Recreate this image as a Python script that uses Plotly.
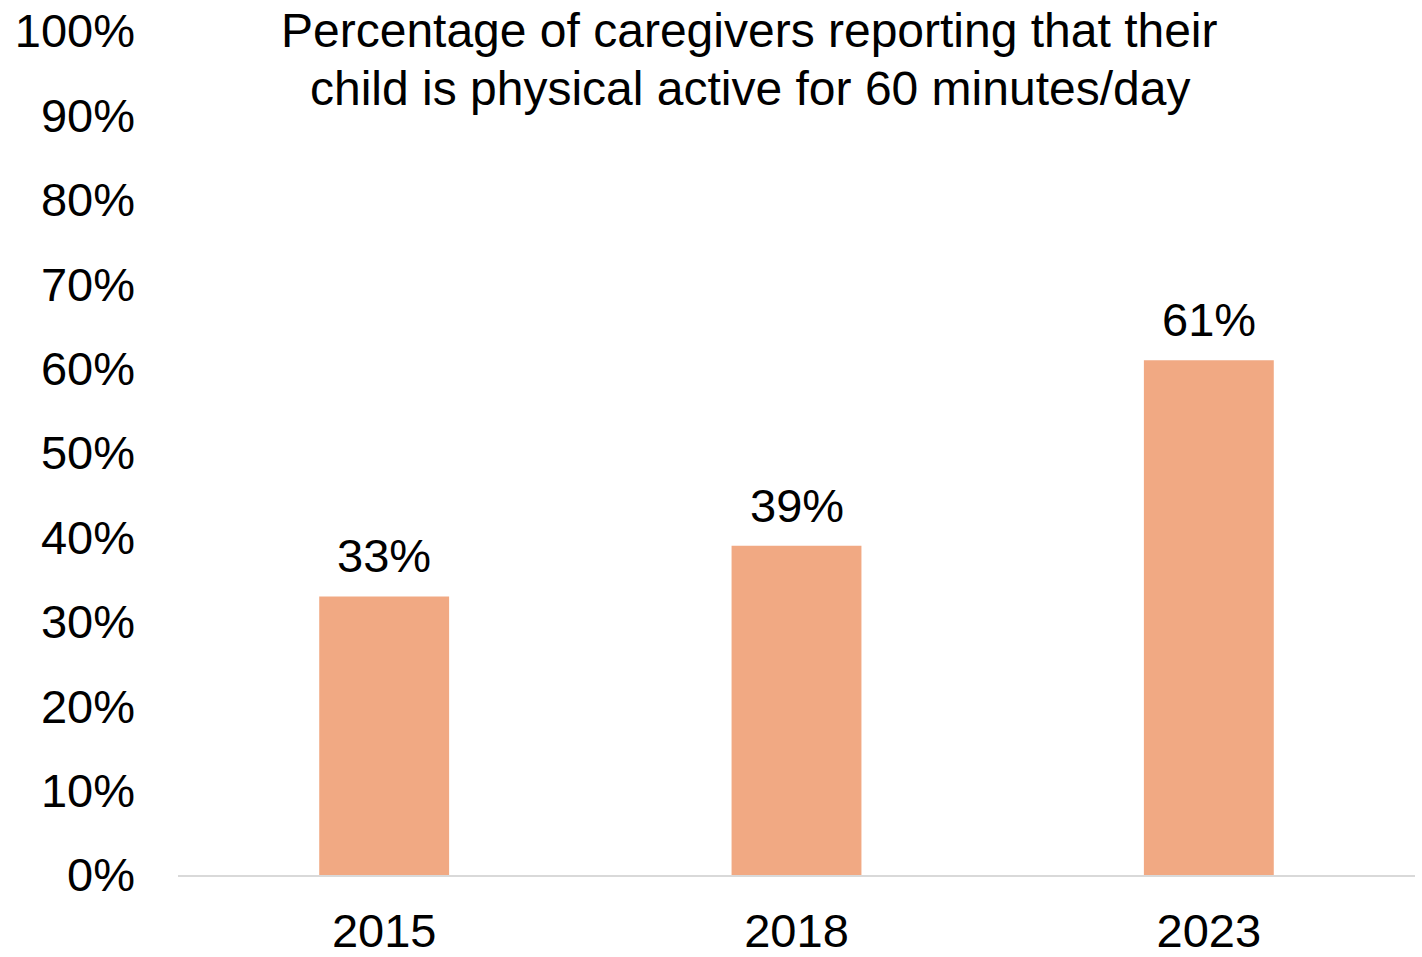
import plotly.graph_objs as go

years = ["2015", "2018", "2023"]
pct_active = [0.33, 0.39, 0.61]
bar_labels = ["33%", "39%", "61%"]
y_ticks = [i / 10 for i in range(11)]
y_tick_text = [f"{i * 10}%" for i in range(11)]

title_lines = [
    "Percentage of caregivers reporting that their",
    "child is physical active for 60 minutes/day",
]
font = dict(family="Liberation Sans, Arial, sans-serif", size=47, color="black")

fig = go.Figure(
    data=[go.Bar(x=years, y=pct_active, marker=dict(color="#F1A983", line=dict(width=0)))],
    layout=go.Layout(
        width=1422,
        height=957,
        paper_bgcolor="white",
        plot_bgcolor="white",
        font=font,
        bargap=0.685,
        showlegend=False,
        margin=dict(l=178, r=7, t=31, b=82),
        xaxis=dict(
            type="category",
            range=[-0.5, len(years) - 0.5],
            showline=True,
            linecolor="#d9d9d9",
            linewidth=2,
            showgrid=False,
            ticks="",
            ticklabelstandoff=14,
            automargin=False,
        ),
        yaxis=dict(
            range=[0, 1],
            tickvals=y_ticks,
            ticktext=y_tick_text,
            showgrid=False,
            zeroline=False,
            showline=False,
            ticks="",
            ticklabelstandoff=42,
            automargin=False,
        ),
    ),
)

# data labels above bars (x by category index)
for i, (v, lab) in enumerate(zip(pct_active, bar_labels)):
    fig.add_annotation(x=i, y=v, text=lab, showarrow=False, yanchor="bottom", yshift=12, font=font)

# title as two separate lines to get the tighter line spacing
for line, ypos in zip(title_lines, [1.001, 0.932]):
    fig.add_annotation(
        text=line, xref="paper", yref="paper", x=0.4624, y=ypos,
        xanchor="center", yanchor="middle", showarrow=False,
        font=dict(family="Liberation Sans, Arial, sans-serif", size=48, color="black"),
    )

# drop the default page margin so the figure sits at the window's corner
fig.write_html(
    "out.html",
    config={"displayModeBar": False},
    post_script="document.body.style.margin='0';",
)
